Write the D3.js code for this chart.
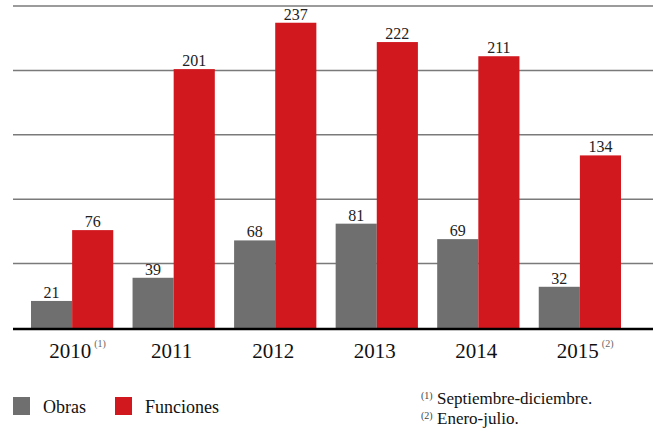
<!DOCTYPE html>
<html>
<head>
<meta charset="utf-8">
<script src="https://cdn.jsdelivr.net/npm/d3@7"></script>
<style>
  body { margin: 0; background: #fff; }
  svg text { font-family: "Liberation Serif", "Times New Roman", Times, "DejaVu Serif", "Noto Serif", serif; }
</style>
</head>
<body>
<svg id="chart" width="653" height="442"></svg>
<script>
const years = ["2010", "2011", "2012", "2013", "2014", "2015"];
const yearNotes = ["(1)", "", "", "", "", "(2)"];
const obras = [21, 39, 68, 81, 69, 32];
const funciones = [76, 201, 237, 222, 211, 134];
const gridTicks = [50, 100, 150, 200, 250];
const seriesNames = ["Obras", "Funciones"];
const seriesColors = ["#6f6f6f", "#d0181e"];
const footnotes = [["(1)", "Septiembre-diciembre."], ["(2)", "Enero-julio."]];

const serif = "'Liberation Serif', 'Times New Roman', Times, 'DejaVu Serif', serif";
const svg = d3.select("#chart");

const y = d3.scaleLinear().domain([0, 250]).range([328, 6]);
const x0 = d3.scaleBand().domain(years).range([31, 621]).paddingInner(0.19).paddingOuter(0);
const x1 = d3.scaleBand().domain(seriesNames).range([0, x0.bandwidth()]);

// gridlines
svg.append("g").selectAll("line")
    .data(gridTicks)
    .join("line")
    .attr("x1", 13)
    .attr("x2", 653)
    .attr("y1", d => y(d))
    .attr("y2", d => y(d))
    .attr("stroke", "#7a7a7a")
    .attr("stroke-width", 1.5);

// bars
const rows = years.map((yr, i) => ({year: yr, values: [obras[i], funciones[i]]}));
const groups = svg.append("g").selectAll("g")
    .data(rows)
    .join("g")
    .attr("transform", d => `translate(${x0(d.year)},0)`);

groups.selectAll("rect")
    .data(d => d.values.map((v, j) => ({key: seriesNames[j], value: v, color: seriesColors[j]})))
    .join("rect")
    .attr("x", d => x1(d.key))
    .attr("y", d => y(d.value))
    .attr("width", x1.bandwidth())
    .attr("height", d => y(0) - y(d.value))
    .attr("fill", d => d.color);

groups.selectAll("text")
    .data(d => d.values.map((v, j) => ({key: seriesNames[j], value: v})))
    .join("text")
    .attr("x", d => x1(d.key) + x1.bandwidth() / 2)
    .attr("y", d => y(d.value) - 3)
    .attr("text-anchor", "middle")
    .attr("font-family", serif)
    .attr("font-size", 16)
    .attr("fill", "#222")
    .text(d => d.value);

// baseline
svg.append("line")
    .attr("x1", 13)
    .attr("x2", 653)
    .attr("y1", y(0) + 1)
    .attr("y2", y(0) + 1)
    .attr("stroke", "#000")
    .attr("stroke-width", 2.5);

// year labels
svg.append("g").selectAll("text")
    .data(years)
    .join("text")
    .attr("x", d => x0(d) + x0.bandwidth() / 2 - 2)
    .attr("y", 358)
    .attr("text-anchor", "middle")
    .attr("font-family", serif)
    .attr("font-size", 21)
    .attr("fill", "#111")
    .text(d => d);

years.forEach((yr, i) => {
    if (!yearNotes[i]) return;
    svg.append("text")
        .attr("x", x0(yr) + x0.bandwidth() / 2 + 22)
        .attr("y", 347)
        .attr("font-family", serif)
        .attr("font-size", 10)
        .attr("fill", "#666")
        .text(yearNotes[i]);
});

// legend
const legendX = [13, 115];
seriesNames.forEach((name, i) => {
    svg.append("rect")
        .attr("x", legendX[i])
        .attr("y", 397)
        .attr("width", 17)
        .attr("height", 18)
        .attr("fill", seriesColors[i]);
    svg.append("text")
        .attr("x", legendX[i] + 30)
        .attr("y", 413)
        .attr("font-family", serif)
        .attr("font-size", 18)
        .attr("fill", "#111")
        .text(name);
});

// footnotes
footnotes.forEach((f, i) => {
    svg.append("text")
        .attr("x", 421)
        .attr("y", 399 + i * 20)
        .attr("font-family", serif)
        .attr("font-size", 10)
        .attr("fill", "#444")
        .text(f[0]);
    svg.append("text")
        .attr("x", 437)
        .attr("y", 404 + i * 20)
        .attr("font-family", serif)
        .attr("font-size", 17)
        .attr("fill", "#111")
        .text(f[1]);
});
</script>
</body>
</html>
